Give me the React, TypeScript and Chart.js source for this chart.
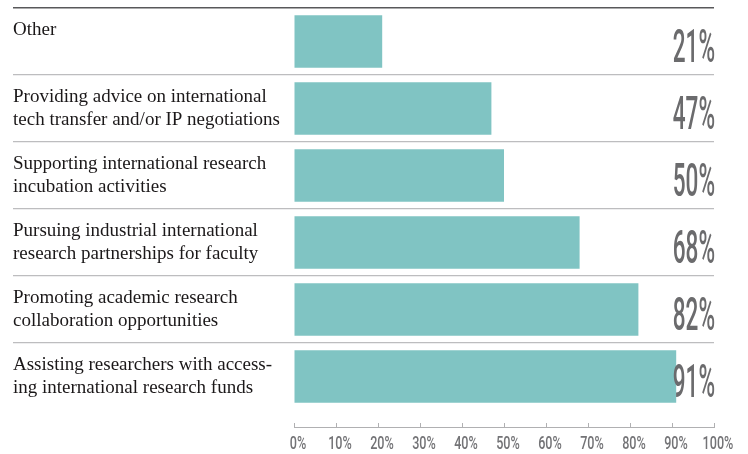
import React, { useEffect, useRef } from "react";
import { Chart, registerables } from "chart.js";

Chart.register(...registerables);

const categories: string[][] = [
  ["Other", ""],
  ["Providing advice on international", "tech transfer and/or IP negotiations"],
  ["Supporting international research", "incubation activities"],
  ["Pursuing industrial international", "research partnerships for faculty"],
  ["Promoting academic research", "collaboration opportunities"],
  ["Assisting researchers with access-", "ing international research funds"],
];
const values: number[] = [21, 47, 50, 68, 82, 91];
const valueLabels: string[] = ["21%", "47%", "50%", "68%", "82%", "91%"];

const BAR_COLOR = "#80c4c3";
const VALUE_COLOR = "#6b6b6d";
const TICK_COLOR = "#737376";

const valueLabelPlugin = {
  id: "valueLabels",
  afterDatasetsDraw(chart: any) {
    const ctx = chart.ctx;
    const meta = chart.getDatasetMeta(0);
    const right = chart.chartArea.right;
    ctx.save();
    ctx.fillStyle = VALUE_COLOR;
    ctx.font = '500 47px Roboto, "Liberation Sans", sans-serif';
    ctx.textAlign = "right";
    ctx.textBaseline = "alphabetic";
    meta.data.forEach((bar: any, i: number) => {
      ctx.save();
      ctx.translate(right + 1, bar.y + 20);
      ctx.scale(0.48, 1);
      ctx.fillText(valueLabels[i], 0, 0);
      ctx.restore();
    });
    ctx.restore();
  },
};

// condensed tick labels for the x scale, drawn from the scale's own ticks
const condensedTicksPlugin = {
  id: "condensedTicks",
  afterDraw(chart: any) {
    const ctx = chart.ctx;
    const xs = chart.scales.x;
    const baseY = chart.scales.y.getPixelForValue(5.5 + 17 / 67);
    ctx.save();
    ctx.fillStyle = TICK_COLOR;
    ctx.font = '500 18px Roboto, "Liberation Sans", sans-serif';
    ctx.textAlign = "center";
    ctx.textBaseline = "alphabetic";
    xs.ticks.forEach((t: any) => {
      const label = `${t.value}%`;
      const px = xs.getPixelForValue(t.value);
      ctx.save();
      ctx.translate(px + 4, baseY + 22);
      ctx.scale(0.7, 1);
      ctx.fillText(label, 0, 0);
      ctx.restore();
    });
    ctx.restore();
  },
};

export default function App() {
  const canvasRef = useRef<HTMLCanvasElement | null>(null);

  useEffect(() => {
    const canvas = canvasRef.current;
    if (!canvas) return;
    const chart = new Chart(canvas, {
      type: "bar",
      data: {
        labels: categories,
        datasets: [
          {
            data: values,
            backgroundColor: BAR_COLOR,
            borderWidth: 0,
            barPercentage: 0.78,
            categoryPercentage: 1,
          },
        ],
      },
      options: {
        indexAxis: "y",
        animation: false,
        responsive: true,
        maintainAspectRatio: false,
        layout: { padding: { left: 13, top: 8, right: 34, bottom: 44 } },
        plugins: {
          legend: { display: false },
          tooltip: { enabled: false },
        },
        scales: {
          y: {
            type: "category",
            position: "left",
            offset: true,
            border: { display: false },
            grid: {
              offset: true,
              drawTicks: true,
              tickLength: 281,
              color: (ctx: any) =>
                ctx.type !== "tick" ? "rgba(0,0,0,0)" : ctx.index === 0 ? "#58585a" : "#bdbdbf",
              tickColor: (ctx: any) =>
                ctx.type !== "tick" ? "rgba(0,0,0,0)" : ctx.index === 0 ? "#58585a" : "#bdbdbf",
              lineWidth: (ctx: any) => (ctx.type === "tick" && ctx.index === 0 ? 1.5 : 1.2),
              tickWidth: (ctx: any) => (ctx.type === "tick" && ctx.index === 0 ? 1.5 : 1.2),
            },
            ticks: {
              crossAlign: "far",
              padding: 0,
              color: "#1b1819",
              font: { family: '"Liberation Serif", "Times New Roman", serif', size: 19, lineHeight: 1.22 },
            },
            afterFit: (scale: any) => {
              scale.width = 281;
              scale.paddingTop = 0;
              scale.paddingBottom = 0;
            },
          },
          x: {
            type: "linear",
            min: 0,
            max: 100,
            position: { y: 5.5 + 17 / 67 } as any,
            border: { display: true, color: "#b0b0b2", width: 1 },
            grid: {
              drawOnChartArea: false,
              drawTicks: true,
              tickLength: -5,
              color: "#b0b0b2",
              lineWidth: 1,
            },
            ticks: {
              display: false,
              stepSize: 10,
              autoSkip: false,
              maxRotation: 0,
              minRotation: 0,
              callback: (v: any) => `${v}%`,
            },
            afterFit: (scale: any) => {
              scale.paddingLeft = 0;
              scale.paddingRight = 0;
            },
          },
        },
      },
      plugins: [valueLabelPlugin, condensedTicksPlugin],
    });
    return () => chart.destroy();
  }, []);

  return (
    <div style={{ position: "absolute", left: 0, top: 0, width: 748, height: 454 }}>
      <canvas ref={canvasRef} />
    </div>
  );
}
